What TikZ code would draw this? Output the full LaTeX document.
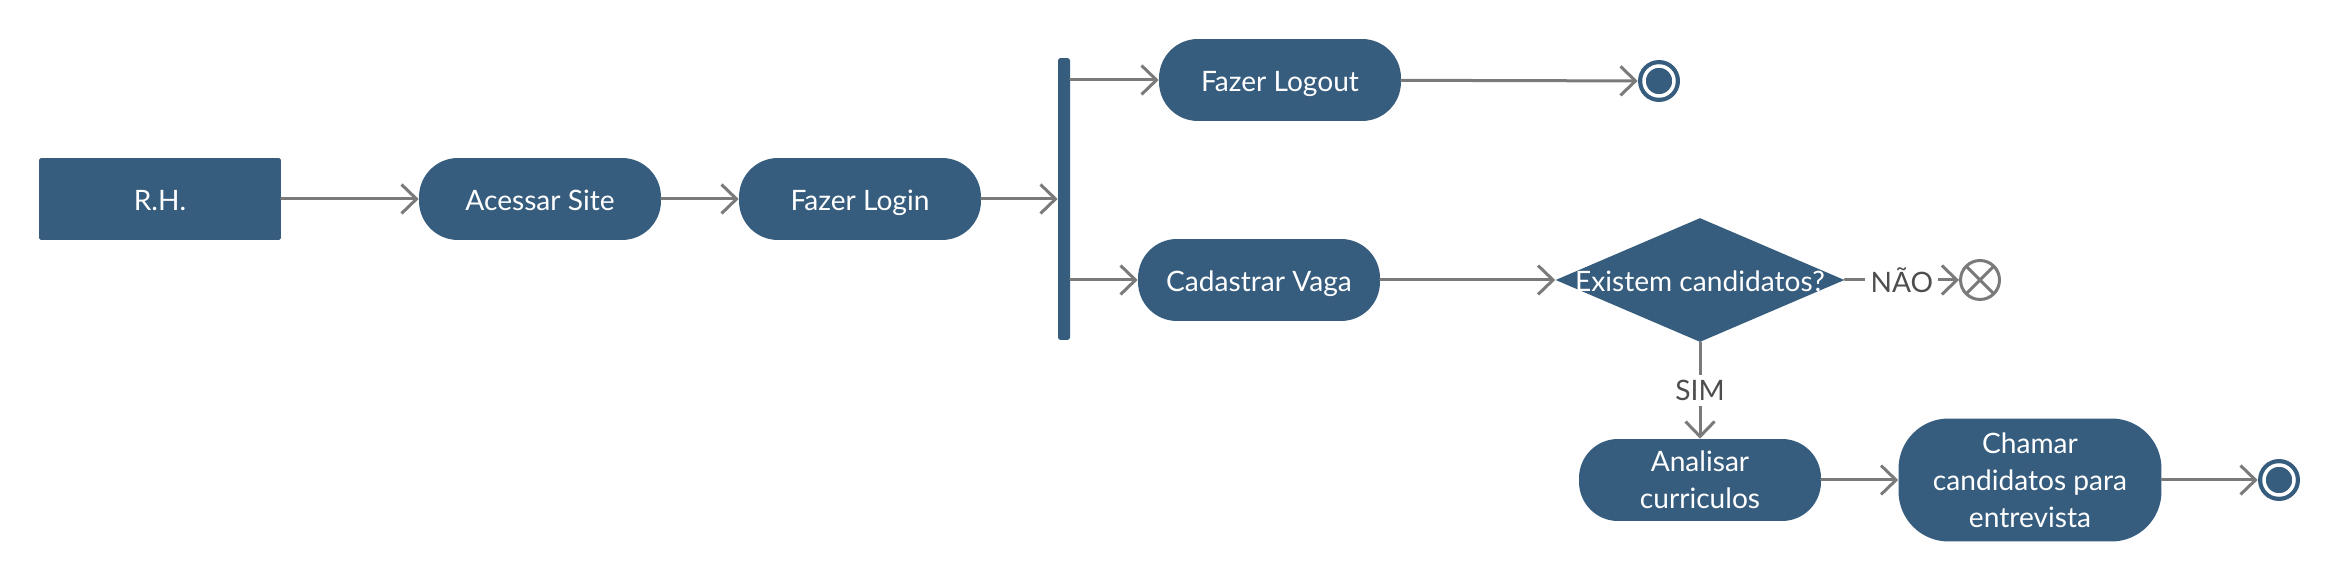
\documentclass[tikz,border=0pt]{standalone}
\usepackage{fontspec}
\setmainfont{Lato}
\usetikzlibrary{arrows.meta,shapes.geometric,positioning}
\definecolor{actBlue}{RGB}{54,92,126}
\definecolor{flowGray}{RGB}{122,122,122}
\definecolor{labelGray}{RGB}{77,77,77}

\begin{document}
\begin{tikzpicture}[x=0.02cm,y=-0.02cm,
  act/.style={rectangle,fill=actBlue,rounded corners=0.78cm,minimum width=4.84cm,
              minimum height=1.64cm,align=center,text=white,inner sep=0pt,
              font=\fontsize{16}{21}\selectfont},
  oneline/.style={text height=0.6cm,text depth=0.12cm},
  actor/.style={rectangle,fill=actBlue,rounded corners=1pt,minimum width=4.84cm,
                minimum height=1.64cm,text=white,inner sep=0pt,font=\fontsize{16}{21}\selectfont},
  decision/.style={diamond,fill=actBlue,minimum width=5.78cm,minimum height=2.48cm,inner sep=0pt},
  forkbar/.style={rectangle,fill=actBlue,rounded corners=1.5pt,minimum width=0.24cm,
                  minimum height=5.64cm,inner sep=0pt},
  finish/.style={circle,fill=actBlue,minimum size=0.84cm,inner sep=0pt,
                 path picture={\draw[white,line width=0.07cm]
                   (path picture bounding box.center) circle (0.3cm);}},
  flowend/.style={circle,draw=flowGray,line width=0.06cm,fill=white,minimum size=0.78cm,inner sep=0pt,
                  path picture={\draw[flowGray,line width=0.06cm]
                    (path picture bounding box.north west)--(path picture bounding box.south east)
                    (path picture bounding box.south west)--(path picture bounding box.north east);}},
  arr/.style={-{Straight Barb[length=0.3cm,width=0.58cm]},flowGray,line width=0.06cm,line cap=round},
  lbl/.style={fill=white,text=labelGray,inner sep=3pt,font=\fontsize{16}{21}\selectfont}
]
  \fill[white] (0,0) rectangle (2340,580);
  \useasboundingbox (0,0) rectangle (2340,580);

  \node[actor,oneline](rh)    at (160,199)  {R.H.};
  \node[act,oneline](acessar) at (540,199)  {Acessar Site};
  \node[act,oneline](login)   at (860,199)  {Fazer Login};
  \node[forkbar](fork)        at (1064,199) {};
  \node[act,oneline](logout)  at (1280,80)  {Fazer Logout};
  \node[finish](endtop)       at (1659,81)  {};
  \node[act,oneline](cadastrar) at (1259,280) {Cadastrar Vaga};
  \node[decision](dia)        at (1700,280) {};
  \node[text=white,oneline,inner sep=0pt,font=\fontsize{16}{21}\selectfont](diatext)
                              at (dia) {Existem candidatos?};
  \node[flowend](cancel)      at (1980,280) {};
  \node[act](analisar)        at (1700,480) {Analisar\\curriculos};
  \node[act,minimum width=5.26cm,minimum height=2.46cm,rounded corners=1cm](chamar)
                              at (2030,480) {Chamar\\candidatos para\\entrevista};
  \node[finish](endbot)       at (2279,480) {};

  \draw[arr](rh)--(acessar);
  \draw[arr](acessar)--(login);
  \draw[arr](login)--(fork);
  \draw[arr](fork.east |- logout)--(logout);
  \draw[arr](fork.east |- cadastrar)--(cadastrar);
  \draw[arr](logout)--(endtop);
  \draw[arr](cadastrar)--(dia);
  \draw[arr](dia.east)--node[lbl]{NÃO}(cancel);
  \draw[arr](dia.south)--node[lbl]{SIM}(analisar);
  \draw[arr](analisar)--(chamar);
  \draw[arr](chamar)--(endbot);
\end{tikzpicture}
\end{document}
